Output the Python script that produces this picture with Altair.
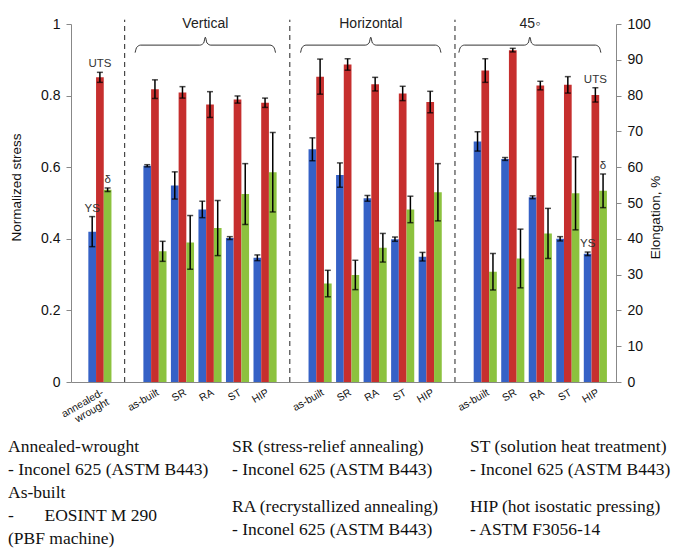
import altair as alt
import pandas as pd

# ---------------- data ----------------
groups = ["", "Vertical", "Horizontal", "45\u25e6"]
categories = ["annealed-wrought",
              "as-built", "SR", "RA", "ST", "HIP",
              "as-built", "SR", "RA", "ST", "HIP",
              "as-built", "SR", "RA", "ST", "HIP"]
group_of = [0, 1, 1, 1, 1, 1, 2, 2, 2, 2, 2, 3, 3, 3, 3, 3]

ys = [0.420, 0.604, 0.549, 0.482, 0.402, 0.347,
      0.650, 0.578, 0.513, 0.399, 0.350,
      0.672, 0.623, 0.516, 0.400, 0.358]
ys_err = [0.042, 0.003, 0.038, 0.023, 0.004, 0.008,
          0.032, 0.034, 0.008, 0.006, 0.012,
          0.027, 0.004, 0.004, 0.006, 0.005]
uts = [0.851, 0.818, 0.809, 0.775, 0.789, 0.780,
       0.853, 0.887, 0.832, 0.806, 0.782,
       0.870, 0.927, 0.828, 0.830, 0.802]
uts_err = [0.014, 0.026, 0.016, 0.036, 0.010, 0.013,
           0.049, 0.016, 0.019, 0.020, 0.030,
           0.033, 0.005, 0.012, 0.023, 0.020]
elong = [53.7, 36.5, 39.0, 43.0, 52.5, 58.6,
         27.5, 29.9, 37.5, 48.2, 53.0,
         30.8, 34.5, 41.5, 52.7, 53.4]
elong_err = [0.5, 2.8, 7.5, 7.7, 8.5, 11.1,
             3.7, 4.1, 4.0, 3.7, 8.0,
             5.1, 8.2, 7.0, 10.2, 4.7]

notes = [  # (category index, series, label, dx)
    (0, "YS", "YS", -7), (0, "UTS", "UTS", 0), (0, "EL", "\u03b4", 3),
    (15, "YS", "YS", 0), (15, "UTS", "UTS", 0), (15, "EL", "\u03b4", 2),
]

NB = "\u00a0"
footnotes = [
    (["Annealed-wrought", "- Inconel 625 (ASTM B443)", "As-built",
      "-" + NB * 7 + "EOSINT M 290", "(PBF machine)"], -63, 423),
    (["SR (stress-relief annealing)", "- Inconel 625 (ASTM B443)"], 161, 423),
    (["RA (recrystallized annealing)", "- Inconel 625 (ASTM B443)"], 161, 483),
    (["ST (solution heat treatment)", "- Inconel 625 (ASTM B443)"], 399, 423),
    (["HIP (hot isostatic pressing)", "- ASTM F3056-14"], 399, 483),
]

# ---------------- layout helpers ----------------
BLUE, RED, GREEN = "#3561C6", "#C62F2E", "#8CC23E"
FONT = "Liberation Sans"
W, H = 545, 358
OFF = 0.28     # bar offset in slot units
BW = 0.14      # half bar width

slots = [1 + i + g for i, g in enumerate(group_of)]

rows = []
for i, s in enumerate(slots):
    rows.append(dict(slot=s, series="YS", value=ys[i], err=ys_err[i], off=-OFF))
    rows.append(dict(slot=s, series="UTS", value=uts[i], err=uts_err[i], off=0.0))
stress = pd.DataFrame(rows)
stress["x"] = stress["slot"] + stress["off"]
stress["x0"] = stress["x"] - BW
stress["x1"] = stress["x"] + BW
stress["lo"] = stress["value"] - stress["err"]
stress["hi"] = stress["value"] + stress["err"]
stress["base"] = 0.0

el = pd.DataFrame(dict(slot=slots, value=elong, err=elong_err))
el["x"] = el["slot"] + OFF
el["x0"] = el["x"] - BW
el["x1"] = el["x"] + BW
el["lo"] = el["value"] - el["err"]
el["hi"] = el["value"] + el["err"]
el["base"] = 0.0

# separators and braces
seps, braces, glabels = [], [], []
brace_pad = {1: (0.72, 0.38), 2: (0.71, 0.39), 3: (0.96, 0.20)}
for g in range(1, len(groups)):
    members = [slots[i] for i in range(len(slots)) if group_of[i] == g]
    first, last = min(members), max(members)
    seps.append(dict(sx=first - 1.1, y0=0.0, y1=1.012))
    s, e = first - brace_pad[g][0], last + brace_pad[g][1]
    m = (s + e) / 2
    pts = [(s, 0.920), (s + 0.06, 0.935), (s + 0.2, 0.941), (m - 0.2, 0.941),
           (m - 0.06, 0.947), (m, 0.963), (m + 0.06, 0.947), (m + 0.2, 0.941),
           (e - 0.2, 0.941), (e - 0.06, 0.935), (e, 0.920)]
    for k, (px, py) in enumerate(pts):
        braces.append(dict(g=g, k=k, bx=px, by=py))
    glabels.append(dict(gx=m, gy=1.0, label=groups[g]))
seps = pd.DataFrame(seps)
braces = pd.DataFrame(braces)
glabels = pd.DataFrame(glabels)

nrows = []
for ci, ser, lab, dx in notes:
    if ser == "YS":
        top, xx = ys[ci] + ys_err[ci], slots[ci] - OFF
    elif ser == "UTS":
        top, xx = uts[ci] + uts_err[ci], slots[ci]
    else:
        top, xx = (elong[ci] + elong_err[ci]) / 100.0, slots[ci] + OFF
    nrows.append(dict(nx=xx, ny=top, label=lab, dx=dx))
nt = pd.DataFrame(nrows)

# x-axis label expression
expr = "''"
for i in reversed(range(len(slots))):
    name = categories[i]
    if name == "annealed-wrought":
        lab = "['annealed-', 'wrought']"
    else:
        lab = "'" + name + "'"
    expr = f"datum.value == {slots[i]} ? {lab} : ({expr})"

xs = alt.Scale(domain=[-0.05, 19.75], nice=False, zero=False)
ysc = alt.Scale(domain=[0, 1], nice=False)
esc = alt.Scale(domain=[0, 100], nice=False)

x_axis = alt.Axis(values=slots, labelExpr=expr, labelAngle=-30, labelAlign="right",
                  labelBaseline="top", ticks=False, grid=False, title=None,
                  domainColor="#888888", labelFont=FONT, labelFontSize=10.5,
                  labelColor="#111111", labelPadding=5, labelOverlap=False,
                  labelLineHeight=11, labelBound=False, labelFlush=False)
y_axis = alt.Axis(values=[0, 0.2, 0.4, 0.6, 0.8, 1.0], format="~g", grid=False,
                  title="Normalized stress", titleFont=FONT, titleFontSize=13.5,
                  titleFontWeight="normal", titleColor="#111111", titleAngle=270,
                  titleX=-48, titleY=163, labelFont=FONT, labelFontSize=14,
                  labelColor="#111111", labelPadding=6, tickSize=5,
                  tickColor="#888888", domainColor="#888888")
e_axis = alt.Axis(values=list(range(0, 101, 10)), grid=False, orient="right",
                  title="Elongation, %", titleFont=FONT, titleFontSize=13.5,
                  titleFontWeight="normal", titleColor="#111111", titleAngle=270,
                  titleX=46, titleY=193, labelFont=FONT, labelFontSize=14,
                  labelColor="#111111", labelPadding=6, tickSize=5,
                  tickColor="#888888", domainColor="#888888")

color_scale = alt.Scale(domain=["YS", "UTS"], range=[BLUE, RED])


def X(field):
    return alt.X(field, scale=xs, axis=x_axis)


bars = alt.Chart(stress).mark_bar().encode(
    x=X("x0:Q"), x2="x1:Q",
    y=alt.Y("value:Q", scale=ysc, axis=y_axis), y2="base:Q",
    color=alt.Color("series:N", scale=color_scale, legend=None),
)
err = alt.Chart(stress).mark_rule(color="black", strokeWidth=1.5).encode(
    x=X("x:Q"), y=alt.Y("lo:Q", scale=ysc, axis=y_axis), y2="hi:Q")
cap_lo = alt.Chart(stress).mark_tick(color="black", orient="horizontal", size=6,
                                     thickness=1.5).encode(
    x=X("x:Q"), y=alt.Y("lo:Q", scale=ysc, axis=y_axis))
cap_hi = alt.Chart(stress).mark_tick(color="black", orient="horizontal", size=6,
                                     thickness=1.5).encode(
    x=X("x:Q"), y=alt.Y("hi:Q", scale=ysc, axis=y_axis))

sep_layer = alt.Chart(seps).mark_rule(color="#222222", strokeDash=[5, 4],
                                      strokeWidth=1).encode(
    x=X("sx:Q"), y=alt.Y("y0:Q", scale=ysc, axis=y_axis), y2="y1:Q")
brace_layer = alt.Chart(braces).mark_line(color="#333333", strokeWidth=1,
                                          interpolate="monotone").encode(
    x=X("bx:Q"), y=alt.Y("by:Q", scale=ysc, axis=y_axis),
    detail="g:N", order="k:Q")
glab_layer = alt.Chart(glabels).mark_text(font=FONT, fontSize=14, color="#222222",
                                          baseline="middle").encode(
    x=X("gx:Q"), y=alt.Y("gy:Q", scale=ysc, axis=y_axis), text="label:N")
note_layer = alt.Chart(nt).mark_text(font=FONT, fontSize=11.5, color="#333333",
                                     baseline="middle", dy=-8).encode(
    x=X("nx:Q"), y=alt.Y("ny:Q", scale=ysc, axis=y_axis),
    text="label:N", xOffset=alt.XOffset("dx:Q", scale=None))

foot_layers = []
for lines, fx, fy in footnotes:
    foot_layers.append(
        alt.Chart(pd.DataFrame({"t": [lines]})).mark_text(
            font="Liberation Serif", fontSize=17.5, color="#111111", align="left",
            baseline="middle", lineHeight=23
        ).encode(x=alt.value(fx), y=alt.value(fy), text="t:N")
    )

left = alt.layer(bars, err, cap_lo, cap_hi, sep_layer, brace_layer, glab_layer,
                 note_layer, *foot_layers)

ebars = alt.Chart(el).mark_bar(color=GREEN).encode(
    x=X("x0:Q"), x2="x1:Q",
    y=alt.Y("value:Q", scale=esc, axis=e_axis), y2="base:Q")
eerr = alt.Chart(el).mark_rule(color="black", strokeWidth=1.5).encode(
    x=X("x:Q"), y=alt.Y("lo:Q", scale=esc, axis=e_axis), y2="hi:Q")
ecap_lo = alt.Chart(el).mark_tick(color="black", orient="horizontal", size=6,
                                  thickness=1.5).encode(
    x=X("x:Q"), y=alt.Y("lo:Q", scale=esc, axis=e_axis))
ecap_hi = alt.Chart(el).mark_tick(color="black", orient="horizontal", size=6,
                                  thickness=1.5).encode(
    x=X("x:Q"), y=alt.Y("hi:Q", scale=esc, axis=e_axis))
right = alt.layer(ebars, eerr, ecap_lo, ecap_hi)

chart = alt.layer(left, right).resolve_scale(y="independent").properties(
    width=W, height=H,
    autosize=alt.AutoSizeParams(type="none"),
    padding={"left": 63, "top": 16, "right": 64, "bottom": 166},
    background="white",
).configure_view(stroke=None)

chart.save("out.html", embed_options={"renderer": "svg", "actions": False})
